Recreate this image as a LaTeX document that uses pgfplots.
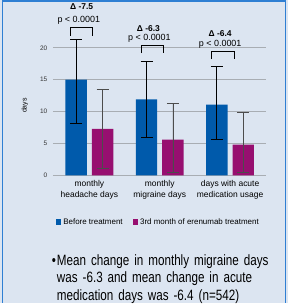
\documentclass[border=0pt]{standalone}
\usepackage{pgfplots}
\pgfplotsset{compat=1.18}
\usepackage{fontspec}
\setmainfont{Liberation Sans}
\newfontfamily\bulletfont[FakeStretch=0.78]{Liberation Sans}
\definecolor{bg}{HTML}{DCE5F1}
\definecolor{frame}{HTML}{2F7FD3}
\definecolor{cblue}{HTML}{005AAB}
\definecolor{cpurple}{HTML}{970F70}
\definecolor{gridc}{HTML}{A8ADB3}
\begin{document}
\begin{tikzpicture}[x=1pt,y=1pt]
% pixel (px,py) -> (px-53, 176-py)
\fill[bg] (-53,-128) rectangle (236,176);
\draw[frame, line width=1.5pt] (-50.5,-128) -- (-50.5,175.2) -- (233.5,175.2) -- (233.5,-128);
\begin{axis}[
  scale only axis, width=214pt, height=128pt,
  xmin=-0.52, xmax=2.51, ymin=0, ymax=20,
  clip=false,
  ybar=5pt, bar width=21.5pt,
  axis line style={draw=none},
  major tick length=0pt,
  ytick={0,5,10,15,20},
  /pgf/number format/assume math mode=true,
  ymajorgrids, grid style={gridc, line width=0.9pt},
  yticklabel style={font=\fontsize{6.5}{7}\selectfont, text=black!80, xshift=-2pt},
  xtick={0,1,2},
  xticklabels={monthly\\headache days, monthly\\migraine days, days with acute\\medication usage},
  xticklabel style={font=\fontsize{8.5}{10.5}\selectfont, align=center, yshift=-2pt},
  ylabel={days},
  ylabel style={font=\fontsize{7}{8}\selectfont, at={(axis description cs:-0.131,0.547)}, anchor=center},
  legend style={at={(0.495,-0.367)}, anchor=center, draw=none, fill=none,
    font=\fontsize{8}{9}\selectfont, legend columns=2,
    /tikz/every even column/.append style={column sep=8pt}},
  legend image code/.code={\fill[#1] (0pt,-2.5pt) rectangle (5.5pt,3pt);},
]
\addplot[fill=cblue, draw=none,
  error bars/.cd, y dir=both, y explicit,
  error bar style={black, line width=0.8pt},
  error mark options={rotate=90, mark size=6pt, black, line width=0.8pt}]
  coordinates {(0,15.0) += (0,6.3) -= (0,6.8)
               (1,11.9) += (0,5.9) -= (0,5.9)
               (2,11.1) += (0,6.0) -= (0,5.5)};
\addlegendentry{Before treatment}
\addplot[fill=cpurple, draw=none,
  error bars/.cd, y dir=both, y explicit,
  error bar style={black!70, line width=0.8pt},
  error mark options={rotate=90, mark size=6pt, black!70, line width=0.8pt}]
  coordinates {(0,7.3) += (0,6.1) -= (0,6.2)
               (1,5.6) += (0,5.65) -= (0,5.2)
               (2,4.8) += (0,5.0) -= (0,4.4)};
\addlegendentry{3rd month of erenumab treatment}
% significance brackets
\draw[black, line width=0.8pt] (axis cs:-0.265,21.92) -- (axis cs:-0.265,23.23) -- (axis cs:0.05,23.23) -- (axis cs:0.05,21.92);
\draw[black, line width=0.8pt] (axis cs:0.736,19.17) -- (axis cs:0.736,20.36) -- (axis cs:1.052,20.36) -- (axis cs:1.052,19.17);
\draw[black, line width=0.8pt] (axis cs:1.741,18.23) -- (axis cs:1.741,19.42) -- (axis cs:2.057,19.42) -- (axis cs:2.057,18.23);
\node[font=\bfseries\fontsize{8.5}{9}\selectfont] at (axis cs:-0.11,26.45) {Δ -7.5};
\node[font=\fontsize{9}{10}\selectfont] at (axis cs:-0.15,24.375) {p < 0.0001};
\node[font=\bfseries\fontsize{8.5}{9}\selectfont] at (axis cs:0.839,23.08) {Δ -6.3};
\node[font=\fontsize{9}{10}\selectfont] at (axis cs:0.853,21.52) {p < 0.0001};
\node[font=\bfseries\fontsize{8.5}{9}\selectfont] at (axis cs:1.859,22.3) {Δ -6.4};
\node[font=\fontsize{9}{10}\selectfont] at (axis cs:1.859,20.58) {p < 0.0001};
\end{axis}
\node[anchor=north west, inner sep=0pt, text width=240pt, align=left,
  font=\bulletfont\fontsize{15}{18}\selectfont] at (-1,-79)
  {\makebox[5pt][l]{\textbullet}Mean change in monthly migraine days\\
   \hspace*{5pt}was -6.3 and mean change in acute\\
   \hspace*{5pt}medication days was -6.4 (n=542)};
\end{tikzpicture}
\end{document}
